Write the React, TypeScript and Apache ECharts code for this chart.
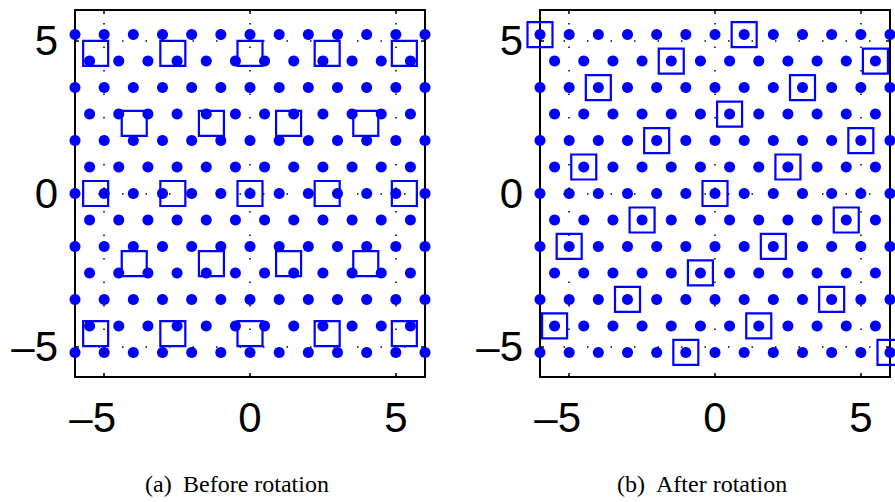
import React, { useEffect, useRef } from 'react';
import * as echarts from 'echarts';

// Hexagonal lattice rows (y values) and x positions of the points in each row
const rowY = [5.196, 4.33, 3.464, 2.598, 1.732, 0.866, 0, -0.866, -1.732, -2.598, -3.464, -4.33, -5.196];
const rowIsShifted = [false, true, false, true, false, true, false, true, false, true, false, true, false];
const fullRowX = [-6, -5, -4, -3, -2, -1, 0, 1, 2, 3, 4, 5, 6];
const shiftedRowX = [-5.5, -4.5, -3.5, -2.5, -1.5, -0.5, 0.5, 1.5, 2.5, 3.5, 4.5, 5.5];

// Squares (sub-lattice) before rotation
const squaresBefore: number[][] = [
  [-5.292, 4.583], [-2.646, 4.583], [0, 4.583], [2.646, 4.583], [5.292, 4.583],
  [-3.969, 2.291], [-1.323, 2.291], [1.323, 2.291], [3.969, 2.291],
  [-5.292, 0], [-2.646, 0], [0, 0], [2.646, 0], [5.292, 0],
  [-3.969, -2.291], [-1.323, -2.291], [1.323, -2.291], [3.969, -2.291],
  [-5.292, -4.583], [-2.646, -4.583], [0, -4.583], [2.646, -4.583], [5.292, -4.583],
];

// Squares (sub-lattice) after rotation
const squaresAfter: number[][] = [
  [-6, 5.196], [1, 5.196],
  [-1.5, 4.33], [5.5, 4.33],
  [-4, 3.464], [3, 3.464],
  [0.5, 2.598],
  [-2, 1.732], [5, 1.732],
  [-4.5, 0.866], [2.5, 0.866],
  [0, 0],
  [-2.5, -0.866], [4.5, -0.866],
  [-5, -1.732], [2, -1.732],
  [-0.5, -2.598],
  [-3, -3.464], [4, -3.464],
  [-5.5, -4.33], [1.5, -4.33],
  [-1, -5.196], [6, -5.196],
];

const tickValues = [-5, 0, 5];
const axisMin = -6;
const axisMax = 6;
const captionTags = ['(a)', '(b)'];
const captionTexts = ['Before rotation', 'After rotation'];

const BLUE = '#0000ff';
const LABEL_FONT = '"Liberation Sans", Arial, Helvetica, sans-serif';
const CAPTION_FONT = '"Liberation Serif", "Times New Roman", serif';

export default function App() {
  const ref = useRef<HTMLDivElement>(null);

  useEffect(() => {
    if (!ref.current) return;
    const chart = echarts.init(ref.current, undefined, { renderer: 'svg' });

    const dots = rowY.flatMap((y, i) => (rowIsShifted[i] ? shiftedRowX : fullRowX).map((x) => [x, y]));

    const grids = [
      { left: 75, top: 10, width: 350, height: 367 },
      { left: 540, top: 10, width: 350, height: 367 },
    ];

    const axisLine = { show: true, onZero: false, lineStyle: { color: '#000', width: 2 } };
    const tick = { show: true, inside: true, length: 4, customValues: tickValues, lineStyle: { color: '#000', width: 1.5 } };

    const xAxes: any[] = [];
    const yAxes: any[] = [];
    grids.forEach((_, g) => {
      xAxes.push({
        type: 'value', gridIndex: g, position: 'bottom', min: axisMin, max: axisMax,
        axisLine, axisTick: tick, splitLine: { show: false },
        axisLabel: {
          show: true, margin: 19, customValues: tickValues,
          formatter: (v: number) => (v < 0 ? `{neg|–${Math.abs(v)}}` : `{pos|${v}}`),
          rich: {
            neg: { fontSize: 42, fontFamily: LABEL_FONT, color: '#000', padding: [0, 23, 0, 0] },
            pos: { fontSize: 42, fontFamily: LABEL_FONT, color: '#000' },
          },
        },
      });
      xAxes.push({
        type: 'value', gridIndex: g, position: 'top', min: axisMin, max: axisMax,
        axisLine, axisTick: tick, splitLine: { show: false }, axisLabel: { show: false },
      });
      yAxes.push({
        type: 'value', gridIndex: g, position: 'left', min: axisMin, max: axisMax,
        axisLine, axisTick: tick, splitLine: { show: false },
        axisLabel: {
          show: true, margin: 17, customValues: tickValues,
          fontSize: 42, fontFamily: LABEL_FONT, color: '#000',
          formatter: (v: number) => (v < 0 ? `–${Math.abs(v)}` : `${v}`),
        },
      });
      yAxes.push({
        type: 'value', gridIndex: g, position: 'right', min: axisMin, max: axisMax,
        axisLine, axisTick: tick, splitLine: { show: false }, axisLabel: { show: false },
      });
    });

    const series: any[] = [];
    [squaresBefore, squaresAfter].forEach((squares, g) => {
      series.push({
        type: 'scatter', xAxisIndex: g * 2, yAxisIndex: g * 2, data: [], z: 1, silent: true,
        markLine: {
          silent: true, symbol: ['none', 'none'], label: { show: false },
          emphasis: { disabled: true },
          lineStyle: { color: '#000', width: 1.5, type: [1.5, 22], opacity: 1 },
          data: tickValues.flatMap((v) => [{ xAxis: v }, { yAxis: v }]),
        },
      });
      series.push({
        type: 'scatter', xAxisIndex: g * 2, yAxisIndex: g * 2, data: dots, z: 2, clip: false,
        symbol: 'circle', symbolSize: 11, itemStyle: { color: BLUE, opacity: 1 }, silent: true,
      });
      series.push({
        type: 'scatter', xAxisIndex: g * 2, yAxisIndex: g * 2, data: squares, z: 3, clip: false,
        symbol: 'rect', symbolSize: 25, silent: true,
        itemStyle: { color: 'rgba(0,0,0,0)', borderColor: BLUE, borderWidth: 2.2, opacity: 1 },
      });
    });

    const tagX = [145, 617];
    const textX = [183, 656];
    const graphic: any[] = [];
    captionTags.forEach((tag, i) => {
      graphic.push({
        type: 'text', x: tagX[i], y: 484, silent: true,
        style: { text: tag, font: `24px ${CAPTION_FONT}`, fill: '#000', textAlign: 'left', textVerticalAlign: 'middle' },
      });
      graphic.push({
        type: 'text', x: textX[i], y: 484, silent: true,
        style: { text: captionTexts[i], font: `24px ${CAPTION_FONT}`, fill: '#000', textAlign: 'left', textVerticalAlign: 'middle' },
      });
    });

    chart.setOption({
      animation: false,
      backgroundColor: '#fff',
      grid: grids.map((g) => ({ ...g, containLabel: false })),
      xAxis: xAxes,
      yAxis: yAxes,
      series,
      graphic,
    });

    return () => chart.dispose();
  }, []);

  return <div ref={ref} style={{ position: 'fixed', left: 0, top: 0, width: 895, height: 502, background: '#fff' }} />;
}
